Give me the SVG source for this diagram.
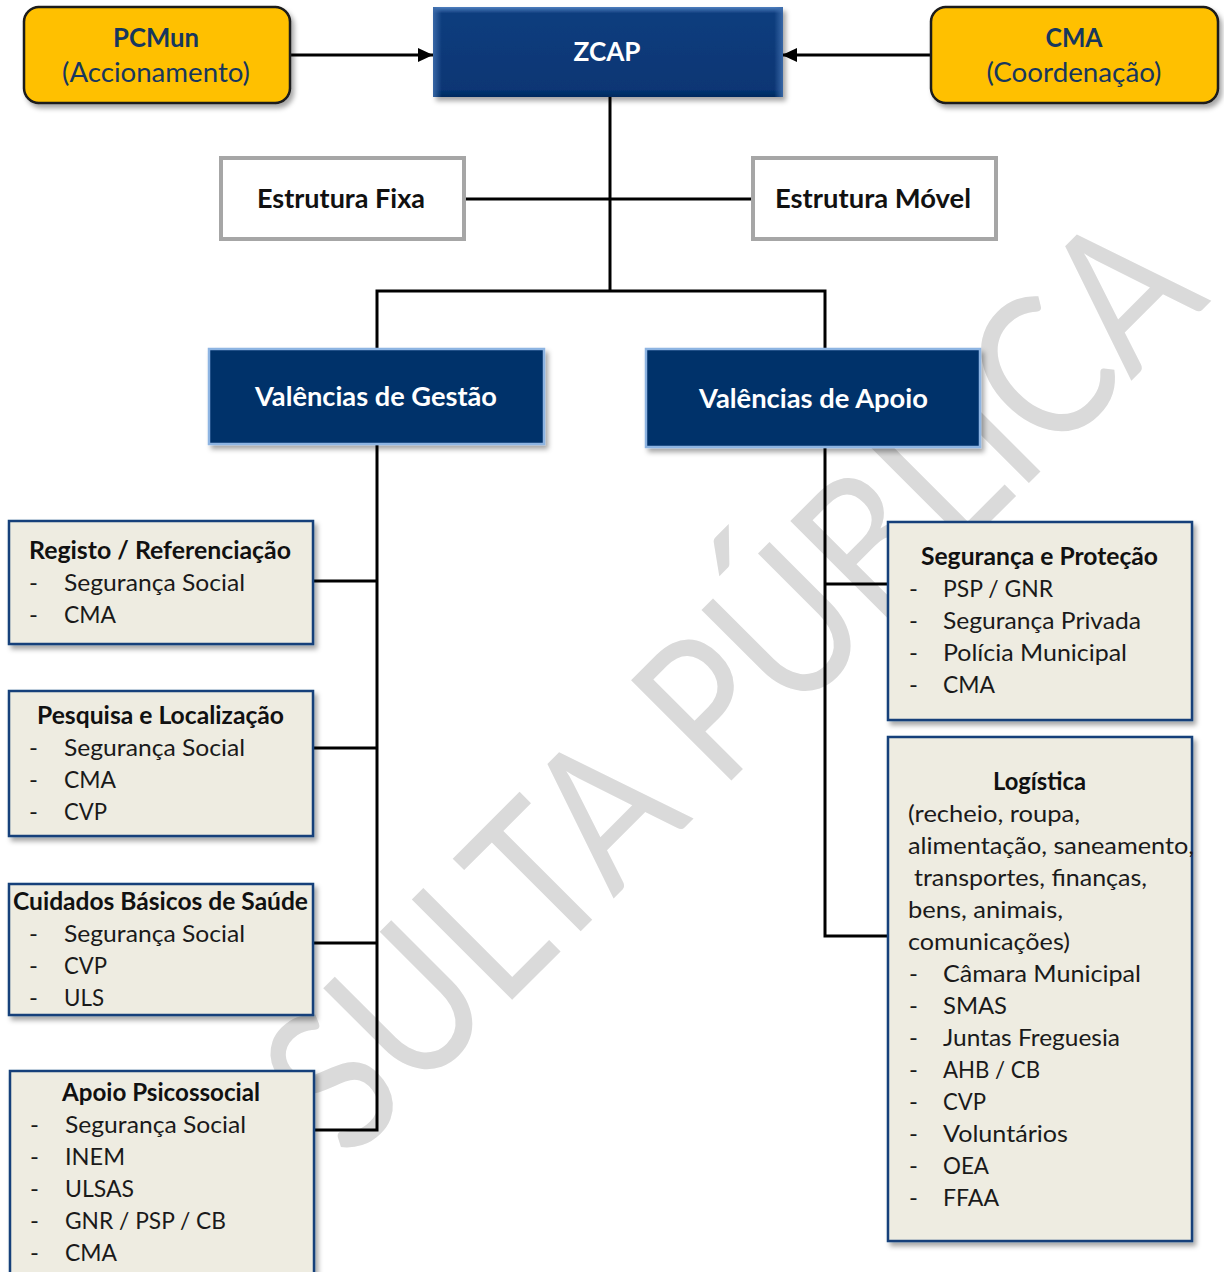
<svg xmlns="http://www.w3.org/2000/svg" width="1224" height="1272" viewBox="0 0 1224 1272">
<defs>
<style>
.wm{font-family:Lato,"Open Sans","Liberation Sans",sans-serif;font-size:198px;fill:#dadada;}
.hd{font-family:Lato,"Liberation Sans",sans-serif;font-weight:bold;font-size:27px;fill:#ffffff;}
.hk{font-family:Lato,"Liberation Sans",sans-serif;font-weight:bold;font-size:27px;fill:#111111;}
.yb{font-family:Lato,"Liberation Sans",sans-serif;font-weight:bold;font-size:26px;fill:#17375e;}
.yr{font-family:Lato,"Liberation Sans",sans-serif;font-size:26px;fill:#17375e;}
.tt{font-family:Lato,"Liberation Sans",sans-serif;font-weight:bold;font-size:24px;fill:#111111;}
.it{font-family:Lato,"Liberation Sans",sans-serif;font-size:24px;fill:#1a1a1a;}
.yel{fill:#ffc000;stroke:#1a1a1a;stroke-width:2.5;}
.est{fill:#ffffff;stroke:#a6a6a6;stroke-width:4;}
.val{fill:#00306b;stroke:#8db4e2;stroke-width:2.5;}
.beige{fill:#eeece1;stroke:#17407a;stroke-width:2.5;}
.ln{fill:none;stroke:#000000;stroke-width:3;}
</style>
<linearGradient id="zg" x1="0" y1="0" x2="0" y2="1">
<stop offset="0" stop-color="#4f7fbf"/>
<stop offset="0.07" stop-color="#0d3d7e"/>
<stop offset="0.92" stop-color="#073674"/>
<stop offset="1" stop-color="#032a5e"/>
</linearGradient>
<linearGradient id="zs" x1="0" y1="0" x2="1" y2="0">
<stop offset="0" stop-color="#3d6cab" stop-opacity="0.9"/>
<stop offset="0.025" stop-color="#3d6cab" stop-opacity="0"/>
<stop offset="0.975" stop-color="#3d6cab" stop-opacity="0"/>
<stop offset="1" stop-color="#3d6cab" stop-opacity="0.9"/>
</linearGradient>
<filter id="sh" x="-10%" y="-10%" width="125%" height="130%">
<feDropShadow dx="3" dy="4" stdDeviation="2.5" flood-color="#000000" flood-opacity="0.35"/>
</filter>
<marker id="ar" markerUnits="userSpaceOnUse" markerWidth="15" markerHeight="14" refX="15" refY="7" orient="auto">
<path d="M0,0 L15,7 L0,14 z" fill="#000000"/>
</marker>
</defs>
<rect width="1224" height="1272" fill="#ffffff"/>
<g id="watermark">
<text class="wm" x="349" y="1163" transform="rotate(-45 349 1163)" textLength="1220" lengthAdjust="spacingAndGlyphs">SULTA PÚBLICA</text>
</g>
<g id="connectors">
<line class="ln" x1="290" y1="55" x2="433" y2="55" marker-end="url(#ar)"/>
<line class="ln" x1="931" y1="55" x2="782" y2="55" marker-end="url(#ar)"/>
<line class="ln" x1="610" y1="97" x2="610" y2="291"/>
<line class="ln" x1="464" y1="199" x2="753" y2="199"/>
<path class="ln" d="M377,349 V291 H825 V349"/>
<path class="ln" d="M377,444 V1130 H314"/>
<line class="ln" x1="313" y1="581" x2="377" y2="581"/>
<line class="ln" x1="313" y1="748" x2="377" y2="748"/>
<line class="ln" x1="313" y1="943" x2="377" y2="943"/>
<path class="ln" d="M825,447 V936 H888"/>
<line class="ln" x1="825" y1="584" x2="888" y2="584"/>
</g>
<g id="pcmun">
<rect class="yel" x="24" y="7" width="266" height="96" rx="15" filter="url(#sh)"/>
<text class="yb" x="156" y="47" text-anchor="middle" textLength="86" lengthAdjust="spacingAndGlyphs">PCMun</text>
<text class="yr" x="156" y="82" text-anchor="middle" textLength="188" lengthAdjust="spacingAndGlyphs">(Accionamento)</text>
</g>
<g id="zcap">
<rect x="433" y="7" width="350" height="90" fill="url(#zg)" filter="url(#sh)"/>
<rect x="433" y="7" width="350" height="90" fill="url(#zs)"/>
<text class="hd" x="607" y="61" text-anchor="middle" textLength="67" lengthAdjust="spacingAndGlyphs">ZCAP</text>
</g>
<g id="cma">
<rect class="yel" x="931" y="7" width="287" height="96" rx="15" filter="url(#sh)"/>
<text class="yb" x="1074" y="47" text-anchor="middle" textLength="57" lengthAdjust="spacingAndGlyphs">CMA</text>
<text class="yr" x="1074" y="82" text-anchor="middle" textLength="175" lengthAdjust="spacingAndGlyphs">(Coordenação)</text>
</g>
<g id="estrutura-fixa">
<rect class="est" x="221" y="158" width="243" height="81"/>
<text class="hk" x="257" y="208" textLength="168" lengthAdjust="spacingAndGlyphs">Estrutura Fixa</text>
</g>
<g id="estrutura-movel">
<rect class="est" x="753" y="158" width="243" height="81"/>
<text class="hk" x="775" y="208" textLength="196" lengthAdjust="spacingAndGlyphs">Estrutura Móvel</text>
</g>
<g id="valencias-gestao">
<rect class="val" x="209" y="349" width="335" height="95" filter="url(#sh)"/>
<text class="hd" x="255" y="406" textLength="242" lengthAdjust="spacingAndGlyphs">Valências de Gestão</text>
</g>
<g id="valencias-apoio">
<rect class="val" x="646" y="349" width="334" height="98" filter="url(#sh)"/>
<text class="hd" x="699" y="408" textLength="229" lengthAdjust="spacingAndGlyphs">Valências de Apoio</text>
</g>
<g id="registo">
<rect class="beige" x="9" y="521" width="304" height="123" filter="url(#sh)"/>
<text class="tt" x="29" y="559" textLength="262" lengthAdjust="spacingAndGlyphs">Registo / Referenciação</text>
<text class="it" x="29" y="591">-</text><text class="it" x="64" y="591" textLength="181" lengthAdjust="spacingAndGlyphs">Segurança Social</text>
<text class="it" x="29" y="623">-</text><text class="it" x="64" y="623" textLength="52" lengthAdjust="spacingAndGlyphs">CMA</text>
</g>
<g id="pesquisa">
<rect class="beige" x="9" y="691" width="304" height="145" filter="url(#sh)"/>
<text class="tt" x="37" y="724" textLength="247" lengthAdjust="spacingAndGlyphs">Pesquisa e Localização</text>
<text class="it" x="29" y="756">-</text><text class="it" x="64" y="756" textLength="181" lengthAdjust="spacingAndGlyphs">Segurança Social</text>
<text class="it" x="29" y="788">-</text><text class="it" x="64" y="788" textLength="52" lengthAdjust="spacingAndGlyphs">CMA</text>
<text class="it" x="29" y="820">-</text><text class="it" x="64" y="820" textLength="43" lengthAdjust="spacingAndGlyphs">CVP</text>
</g>
<g id="cuidados">
<rect class="beige" x="9" y="884" width="304" height="131" filter="url(#sh)"/>
<text class="tt" x="13" y="910" textLength="295" lengthAdjust="spacingAndGlyphs">Cuidados Básicos de Saúde</text>
<text class="it" x="29" y="942">-</text><text class="it" x="64" y="942" textLength="181" lengthAdjust="spacingAndGlyphs">Segurança Social</text>
<text class="it" x="29" y="974">-</text><text class="it" x="64" y="974" textLength="43" lengthAdjust="spacingAndGlyphs">CVP</text>
<text class="it" x="29" y="1006">-</text><text class="it" x="64" y="1006" textLength="40" lengthAdjust="spacingAndGlyphs">ULS</text>
</g>
<g id="apoio-psicossocial">
<rect class="beige" x="10" y="1071" width="304" height="215" filter="url(#sh)"/>
<text class="tt" x="62" y="1101" textLength="198" lengthAdjust="spacingAndGlyphs">Apoio Psicossocial</text>
<text class="it" x="30" y="1133">-</text><text class="it" x="65" y="1133" textLength="181" lengthAdjust="spacingAndGlyphs">Segurança Social</text>
<text class="it" x="30" y="1165">-</text><text class="it" x="65" y="1165" textLength="60" lengthAdjust="spacingAndGlyphs">INEM</text>
<text class="it" x="30" y="1197">-</text><text class="it" x="65" y="1197" textLength="69" lengthAdjust="spacingAndGlyphs">ULSAS</text>
<text class="it" x="30" y="1229">-</text><text class="it" x="65" y="1229" textLength="161" lengthAdjust="spacingAndGlyphs">GNR / PSP / CB</text>
<text class="it" x="30" y="1261">-</text><text class="it" x="65" y="1261" textLength="52" lengthAdjust="spacingAndGlyphs">CMA</text>
</g>
<g id="seguranca">
<rect class="beige" x="888" y="522" width="304" height="198" filter="url(#sh)"/>
<text class="tt" x="921" y="565" textLength="237" lengthAdjust="spacingAndGlyphs">Segurança e Proteção</text>
<text class="it" x="909" y="597">-</text><text class="it" x="943" y="597" textLength="110" lengthAdjust="spacingAndGlyphs">PSP / GNR</text>
<text class="it" x="909" y="629">-</text><text class="it" x="943" y="629" textLength="198" lengthAdjust="spacingAndGlyphs">Segurança Privada</text>
<text class="it" x="909" y="661">-</text><text class="it" x="943" y="661" textLength="184" lengthAdjust="spacingAndGlyphs">Polícia Municipal</text>
<text class="it" x="909" y="693">-</text><text class="it" x="943" y="693" textLength="52" lengthAdjust="spacingAndGlyphs">CMA</text>
</g>
<g id="logistica">
<rect class="beige" x="888" y="737" width="304" height="504" filter="url(#sh)"/>
<text class="tt" x="993" y="790" textLength="93" lengthAdjust="spacingAndGlyphs">Logística</text>
<text class="it" x="908" y="822" textLength="172" lengthAdjust="spacingAndGlyphs">(recheio, roupa,</text>
<text class="it" x="908" y="854" textLength="286" lengthAdjust="spacingAndGlyphs">alimentação, saneamento,</text>
<text class="it" x="914" y="886" textLength="233" lengthAdjust="spacingAndGlyphs">transportes, finanças,</text>
<text class="it" x="908" y="918" textLength="155" lengthAdjust="spacingAndGlyphs">bens, animais,</text>
<text class="it" x="908" y="950" textLength="162" lengthAdjust="spacingAndGlyphs">comunicações)</text>
<text class="it" x="909" y="982">-</text><text class="it" x="943" y="982" textLength="198" lengthAdjust="spacingAndGlyphs">Câmara Municipal</text>
<text class="it" x="909" y="1014">-</text><text class="it" x="943" y="1014" textLength="64" lengthAdjust="spacingAndGlyphs">SMAS</text>
<text class="it" x="909" y="1046">-</text><text class="it" x="943" y="1046" textLength="177" lengthAdjust="spacingAndGlyphs">Juntas Freguesia</text>
<text class="it" x="909" y="1078">-</text><text class="it" x="943" y="1078" textLength="97" lengthAdjust="spacingAndGlyphs">AHB / CB</text>
<text class="it" x="909" y="1110">-</text><text class="it" x="943" y="1110" textLength="43" lengthAdjust="spacingAndGlyphs">CVP</text>
<text class="it" x="909" y="1142">-</text><text class="it" x="943" y="1142" textLength="125" lengthAdjust="spacingAndGlyphs">Voluntários</text>
<text class="it" x="909" y="1174">-</text><text class="it" x="943" y="1174" textLength="46" lengthAdjust="spacingAndGlyphs">OEA</text>
<text class="it" x="909" y="1206">-</text><text class="it" x="943" y="1206" textLength="56" lengthAdjust="spacingAndGlyphs">FFAA</text>
</g>
</svg>
